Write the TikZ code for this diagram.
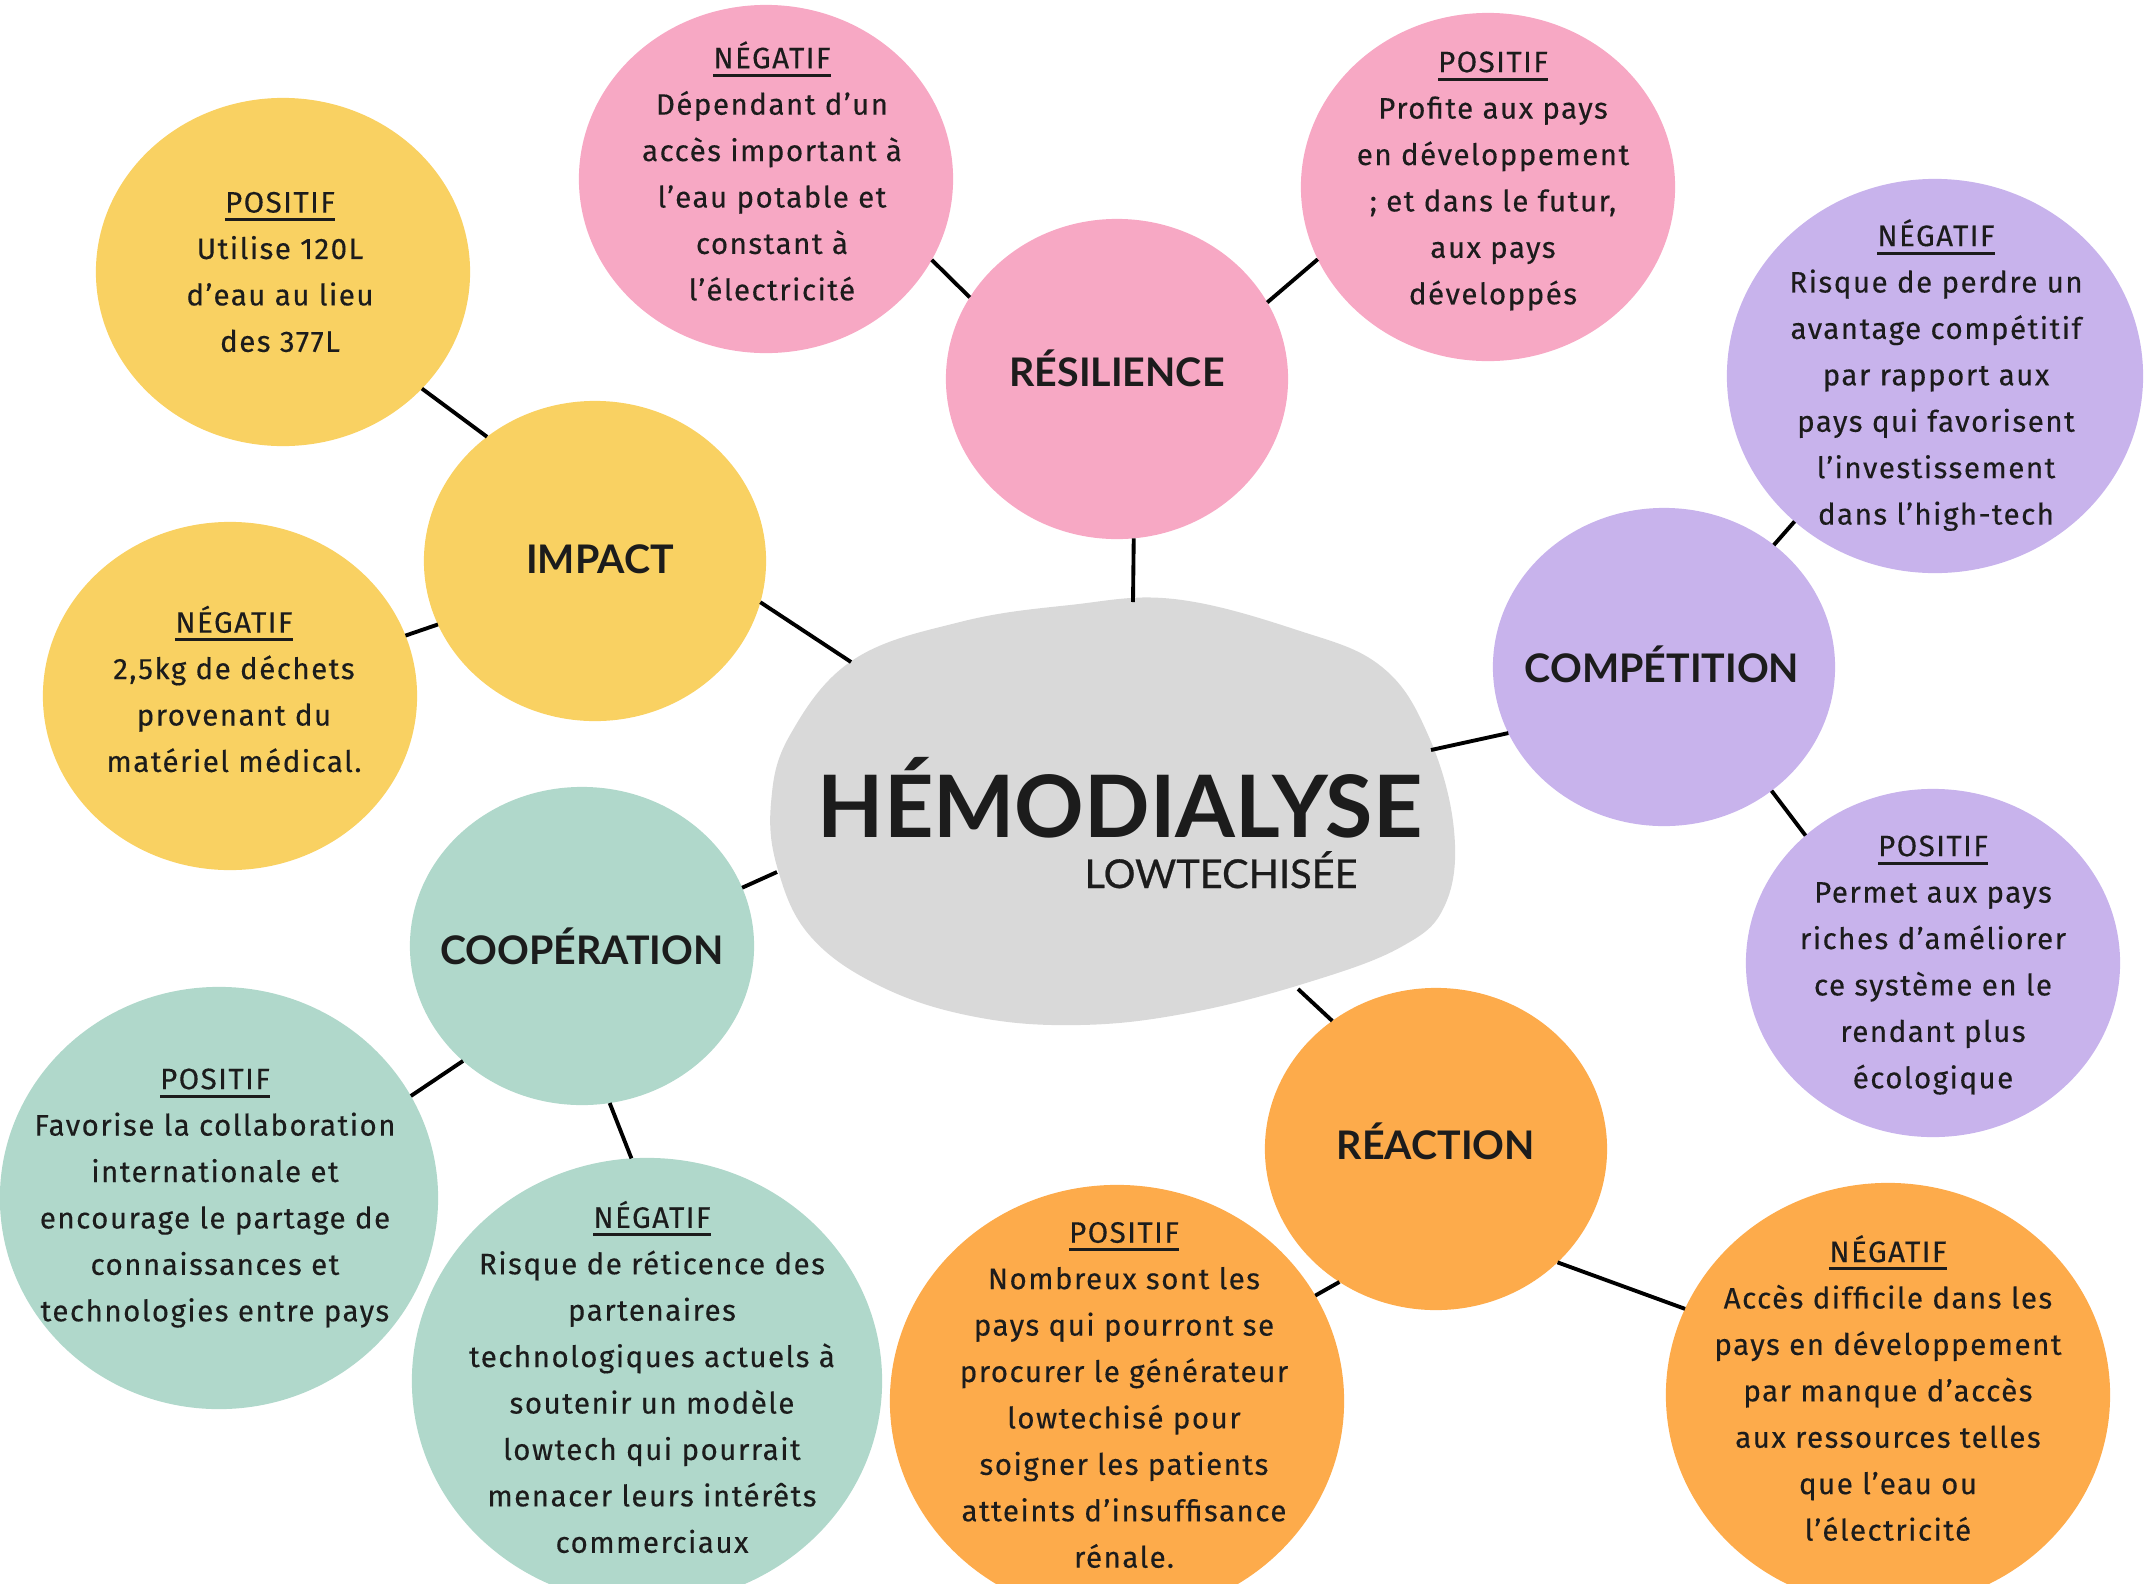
\documentclass[tikz,border=0pt]{standalone}
\usepackage{fontspec}
\setmainfont{Fira Sans}[LetterSpace=5, FakeBold=0.3]
\newfontfamily\titlefont{Lato}
\newfontfamily\subfont{Lato}[FakeBold=0.6]
\usetikzlibrary{shapes.geometric}

\definecolor{cYellow}{HTML}{F9D162}
\definecolor{cPink}{HTML}{F7A8C4}
\definecolor{cViolet}{HTML}{C8B3EC}
\definecolor{cTeal}{HTML}{B0D8CB}
\definecolor{cOrange}{HTML}{FDAB4B}
\definecolor{cBlob}{HTML}{D9D9D9}
\definecolor{ink}{HTML}{1C1C1C}

% underlined heading of a bubble
\newcommand\hd[1]{\leavevmode\setbox0=\hbox{#1}\rlap{\rule[-2.4pt]{\wd0}{0.85pt}}\box0}

\tikzset{
  bubble/.style={ellipse, inner sep=0pt, outer sep=0pt, draw=none},
  theme/.style={anchor=base, text=ink, font=\titlefont\bfseries\fontsize{11.2}{13}\selectfont},
  leaf/.style={align=center, text=ink, font=\fontsize{8.4}{13.2}\selectfont},
  link/.style={line width=1.1pt, black},
}

\begin{document}
\begin{tikzpicture}[x=0.01cm, y=-0.01cm]
\useasboundingbox (0,0) rectangle (2144,1584);

% central grey blob
\fill[cBlob] plot[smooth cycle, tension=0.65] coordinates {
  (1174,599) (1297,630) (1382,667) (1429,737)
  (1454,830) (1445,905) (1401,947) (1306,983) (1188,1013) (1080,1025)
  (976,1017) (882,987) (811,937) (778,870) (771,803) (790,735)
  (853,660) (960,622) (1070,605)};
\coordinate (bTop) at (1133,602);
\coordinate (bLeftUp) at (851,662);
\coordinate (bRight) at (1431,750);
\coordinate (bLeftDown) at (777,872);
\coordinate (bBottom) at (1298,989);

\node[anchor=base, text=ink, font=\titlefont\bfseries\fontsize{24.5}{28}\selectfont] (hemo) at (1120,837) {HÉMODIALYSE};
\node[anchor=base, text=ink, font=\subfont\fontsize{11.3}{13}\selectfont] (lowtech) at (1221,888) {LOWTECHISÉE};

% IMPACT
\node[bubble, fill=cYellow, minimum width=3.74cm, minimum height=3.48cm] (ipos) at (283,272) {};
\node[bubble, fill=cYellow, minimum width=3.74cm, minimum height=3.48cm] (ineg) at (230,696) {};
\node[bubble, fill=cYellow, minimum width=3.42cm, minimum height=3.20cm] (impact) at (595,561) {};
% RÉSILIENCE
\node[bubble, fill=cPink, minimum width=3.74cm, minimum height=3.48cm] (rneg) at (766,179) {};
\node[bubble, fill=cPink, minimum width=3.42cm, minimum height=3.20cm] (resil) at (1117,379) {};
\node[bubble, fill=cPink, minimum width=3.74cm, minimum height=3.48cm] (rpos) at (1488,187) {};
% COMPÉTITION
\node[bubble, fill=cViolet, minimum width=4.16cm, minimum height=3.94cm] (cneg) at (1935,376) {};
\node[bubble, fill=cViolet, minimum width=3.42cm, minimum height=3.18cm] (compet) at (1664,667) {};
\node[bubble, fill=cViolet, minimum width=3.74cm, minimum height=3.48cm] (cpos) at (1933,963) {};
% RÉACTION
\node[bubble, fill=cOrange, minimum width=3.42cm, minimum height=3.22cm] (react) at (1436,1149) {};
\node[bubble, fill=cOrange, minimum width=4.44cm, minimum height=4.24cm] (xneg) at (1888,1395) {};
\node[bubble, fill=cOrange, minimum width=4.54cm, minimum height=4.32cm] (xpos) at (1117,1401) {};
% COOPÉRATION
\node[bubble, fill=cTeal, minimum width=3.44cm, minimum height=3.18cm] (coop) at (582,946) {};
\node[bubble, fill=cTeal, minimum width=4.38cm, minimum height=4.22cm] (kpos) at (219,1198) {};
\node[bubble, fill=cTeal, minimum width=4.70cm, minimum height=4.46cm] (kneg) at (647,1381) {};

% connectors
\draw[link] (ipos.-40) -- (impact.131);
\draw[link] (ineg.19) -- (impact.-158);
\draw[link] (impact.-14) -- (bLeftUp);
\draw[link] (rneg.-26) -- (resil.151);
\draw[link] (resil.27) -- (rpos.-157);
\draw[link] (resil.-84) -- (bTop);
\draw[link] (cneg.-134) -- (compet.48);
\draw[link] (compet.-157) -- (bRight);
\draw[link] (compet.-49) -- (cpos.135);
\draw[link] (bBottom) -- (react.129);
\draw[link] (react.-126) -- (xpos.28);
\draw[link] (react.-43) -- (xneg.157);
\draw[link] (coop.20) -- (bLeftDown);
\draw[link] (coop.-136) -- (kpos.28);
\draw[link] (coop.-80) -- (kneg.94);

% theme titles
\node[theme] (impact-t) at (600,573) {IMPACT};
\node[theme] (resil-t) at (1117,386) {RÉSILIENCE};
\node[theme] (compet-t) at (1662,682) {COMPÉTITION};
\node[theme] (react-t) at (1436,1159) {RÉACTION};
\node[theme] (coop-t) at (582,964) {COOPÉRATION};

% bubble texts
\node[leaf] (ipos-t) at (280,272) {\hd{POSITIF}\\Utilise 120L\\d'eau au lieu\\des 377L};
\node[leaf] (ineg-t) at (234,689) {\hd{NÉGATIF}\\2,5kg de déchets\\provenant du\\matériel médical.};
\node[leaf] (rneg-t) at (772,171) {\hd{NÉGATIF}\\Dépendant d'un\\accès important à\\l'eau potable et\\constant à\\l'électricité};
\node[leaf] (rpos-t) at (1493,181) {\hd{POSITIF}\\Profite aux pays\\en développement\\; et dans le futur,\\aux pays\\développés};
\node[leaf] (cneg-t) at (1936,375) {\hd{NÉGATIF}\\Risque de perdre un\\avantage compétitif\\par rapport aux\\pays qui favorisent\\l'investissement\\dans l'high-tech};
\node[leaf] (cpos-t) at (1933,965) {\hd{POSITIF}\\Permet aux pays\\riches d'améliorer\\ce système en le\\rendant plus\\écologique};
\node[leaf] (xpos-t) at (1124,1395) {\hd{POSITIF}\\Nombreux sont les\\pays qui pourront se\\procurer le générateur\\lowtechisé pour\\soigner les patients\\atteints d'insuffisance\\rénale.};
\node[leaf] (xneg-t) at (1888,1388) {\hd{NÉGATIF}\\Accès difficile dans les\\pays en développement\\par manque d'accès\\aux ressources telles\\que l'eau ou\\l'électricité};
\node[leaf] (kpos-t) at (215,1198) {\hd{POSITIF}\\Favorise la collaboration\\internationale et\\encourage le partage de\\connaissances et\\technologies entre pays};
\node[leaf] (kneg-t) at (652,1377) {\hd{NÉGATIF}\\Risque de réticence des\\partenaires\\technologiques actuels à\\soutenir un modèle\\lowtech qui pourrait\\menacer leurs intérêts\\commerciaux};
\end{tikzpicture}
\end{document}
